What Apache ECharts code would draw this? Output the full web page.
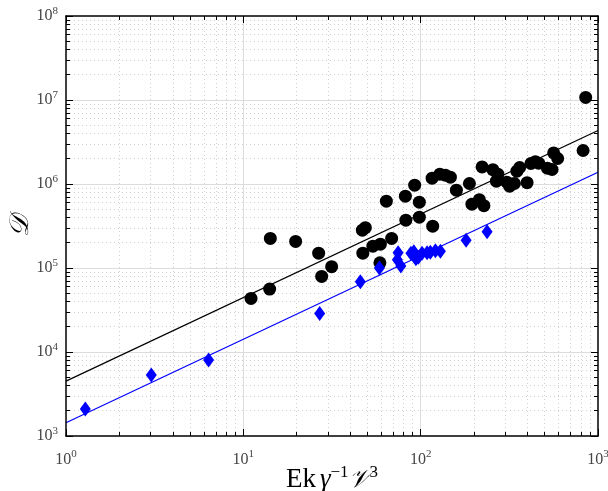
<!DOCTYPE html>
<html><head><meta charset="utf-8">
<script src="https://cdn.jsdelivr.net/npm/echarts@6/dist/echarts.min.js"></script>
<style>html,body{margin:0;padding:0;background:#fff}#c{width:608px;height:491px}</style>
</head><body><div id="c"></div>
<script>
// Black circles: [Ek*gamma^-1*V^3, D]
const blackX = [11.05,14.07,14.20,19.72,26.59,31.48,27.65,46.9,48.76,47.2,53.76,59.25,68.6,58.9,64.05,82.0,92.5,98.3,82.5,98.3,116.9,116.0,128.3,137.8,147.1,159.0,188.3,222.0,194.5,214.3,227.3,255.4,272.5,267.3,306.4,317.7,337.7,348.8,361.7,398.2,418.4,443.6,463.0,518.4,550.8,562.3,592.5,824.0,852.3];
const blackY = [43450,56100,224900,207000,150300,103800,79400,282200,302000,150300,182000,192300,224900,115200,624500,716500,968000,607700,371200,403000,315000,1173000,1309000,1274000,1205000,844000,1014000,1599000,575300,651000,552000,1480000,1309000,1080000,1051000,942000,1014000,1421000,1573000,1037000,1754000,1843000,1769000,1543000,1488000,2346000,2012000,2505000,10730000];
// Blue diamonds
const blueX = [1.285,3.027,6.37,26.94,45.7,58.5,74.6,73.9,77.3,88.1,91.5,94.0,97.1,101.8,108.7,113.4,121.1,129.2,180.4,236.9];
const blueY = [2095,5318,8020,28660,68480,99700,152400,125800,105300,150300,156600,129300,134700,150300,152400,154500,161000,158800,214700,269500];
// Fit lines (endpoints)
const fitX = [1, 1000];
const fitBlackY = [4500, 4330000];
const fitBlueY = [1440, 1380000];
// Tick labels
const xTickVals = [1, 10, 100, 1000];
const yTickVals = [1e3, 1e4, 1e5, 1e6, 1e7, 1e8];
const minorMults = [2,3,4,5,6,7,8,9];

const zip = (a,b)=>a.map((v,i)=>[v,b[i]]);
const expLabel = v => { const e = Math.round(Math.log10(v)); return (xTickVals.concat(yTickVals).some(t=>Math.abs(t-v)/v<1e-6)) ? '{b|10}{s|' + e + '}' : ''; };
const minorLines = (lo, hi) => { const out=[]; for (let d=lo; d<hi; d*=10) minorMults.forEach(m=>out.push(d*m)); return out; };
const xMinor = minorLines(1, 1000);
const yMinor = minorLines(1e3, 1e8);

const chart = echarts.init(document.getElementById('c'), null, {renderer:'canvas'});
const serif = 'Liberation Serif, DejaVu Serif, serif';
const rich = { b:{fontFamily:serif,fontSize:16,color:'#444'}, s:{fontFamily:serif,fontSize:11,color:'#444',verticalAlign:'top',padding:[0,0,10,0]} };
const baseAxis = (min,max)=>({
  type:'log', logBase:10, min, max,
  axisLine:{show:true,onZero:false,lineStyle:{color:'#000',width:1.5}},
  axisTick:{show:true,inside:true,length:7,lineStyle:{color:'#000'}},
  minorTick:{show:true,splitNumber:9,length:4,lineStyle:{color:'#000'}},
  splitLine:{show:false},
  nameMoveOverlap:false,
  z:20
});
const gridLinesSeries = {
  type:'line', data:[], silent:true, z:0,
  markLine:{ silent:true, symbol:'none', label:{show:false}, animation:false,
    data: [
      ...xMinor.map(v=>({xAxis:v, lineStyle:{color:'#d0d0d0',type:[1,3],width:1}})),
      ...yMinor.map(v=>({yAxis:v, lineStyle:{color:'#d0d0d0',type:[1,3],width:1}})),
      ...xTickVals.slice(1,-1).map(v=>({xAxis:v, lineStyle:{color:'#dcdcdc',type:'solid',width:1}})),
      ...yTickVals.slice(1,-1).map(v=>({yAxis:v, lineStyle:{color:'#dcdcdc',type:'solid',width:1}}))
    ]}
};
chart.setOption({
  animation:false,
  backgroundColor:'#fff',
  grid:{left:66,right:10,top:16,bottom:55,containLabel:false,outerBoundsMode:'none'},
  xAxis:[
    Object.assign(baseAxis(1,1000),{position:'bottom',
      axisLabel:{formatter:expLabel,rich,margin:13},
      name:'{r|Ek}{i|γ}{sup|−1}{c|𝒱}{sup|3}', nameLocation:'middle', nameGap:44,
      nameTextStyle:{verticalAlign:'middle',rich:{r:{fontFamily:serif,fontSize:27,color:'#000'},i:{fontFamily:serif,fontStyle:'italic',fontSize:27,color:'#000',padding:[0,0,0,4]},sup:{fontFamily:serif,fontSize:17,color:'#000',verticalAlign:'top',padding:[0,0,15,0]},c:{fontFamily:'DejaVu Serif, DejaVu Sans, serif',fontStyle:'italic',fontSize:25,color:'#000'}}}}),
    Object.assign(baseAxis(1,1000),{position:'top',axisLabel:{show:false}})
  ],
  yAxis:[
    Object.assign(baseAxis(1e3,1e8),{position:'left',
      axisLabel:{formatter:expLabel,rich,margin:8},
      name:'𝒟', nameLocation:'middle', nameGap:45, nameRotate:90,
      nameTextStyle:{verticalAlign:'middle',fontFamily:'DejaVu Serif, DejaVu Sans, serif',fontStyle:'italic',fontSize:27,color:'#000'}}),
    Object.assign(baseAxis(1e3,1e8),{position:'right',axisLabel:{show:false}})
  ],
  series:[
    gridLinesSeries,
    {type:'line', z:5, data:zip(fitX,fitBlackY), showSymbol:false, lineStyle:{color:'#000',width:1.2}, silent:true},
    {type:'line', z:5, data:zip(fitX,fitBlueY), showSymbol:false, lineStyle:{color:'#0000ff',width:1.2}, silent:true},
    {type:'scatter', z:10, data:zip(blackX,blackY), symbol:'circle', symbolSize:13, itemStyle:{color:'#000',opacity:1}},
    {type:'scatter', z:10, data:zip(blueX,blueY), symbol:'diamond', symbolSize:[11,15], itemStyle:{color:'#0000ff',opacity:1}}
  ]
});
</script></body></html>
